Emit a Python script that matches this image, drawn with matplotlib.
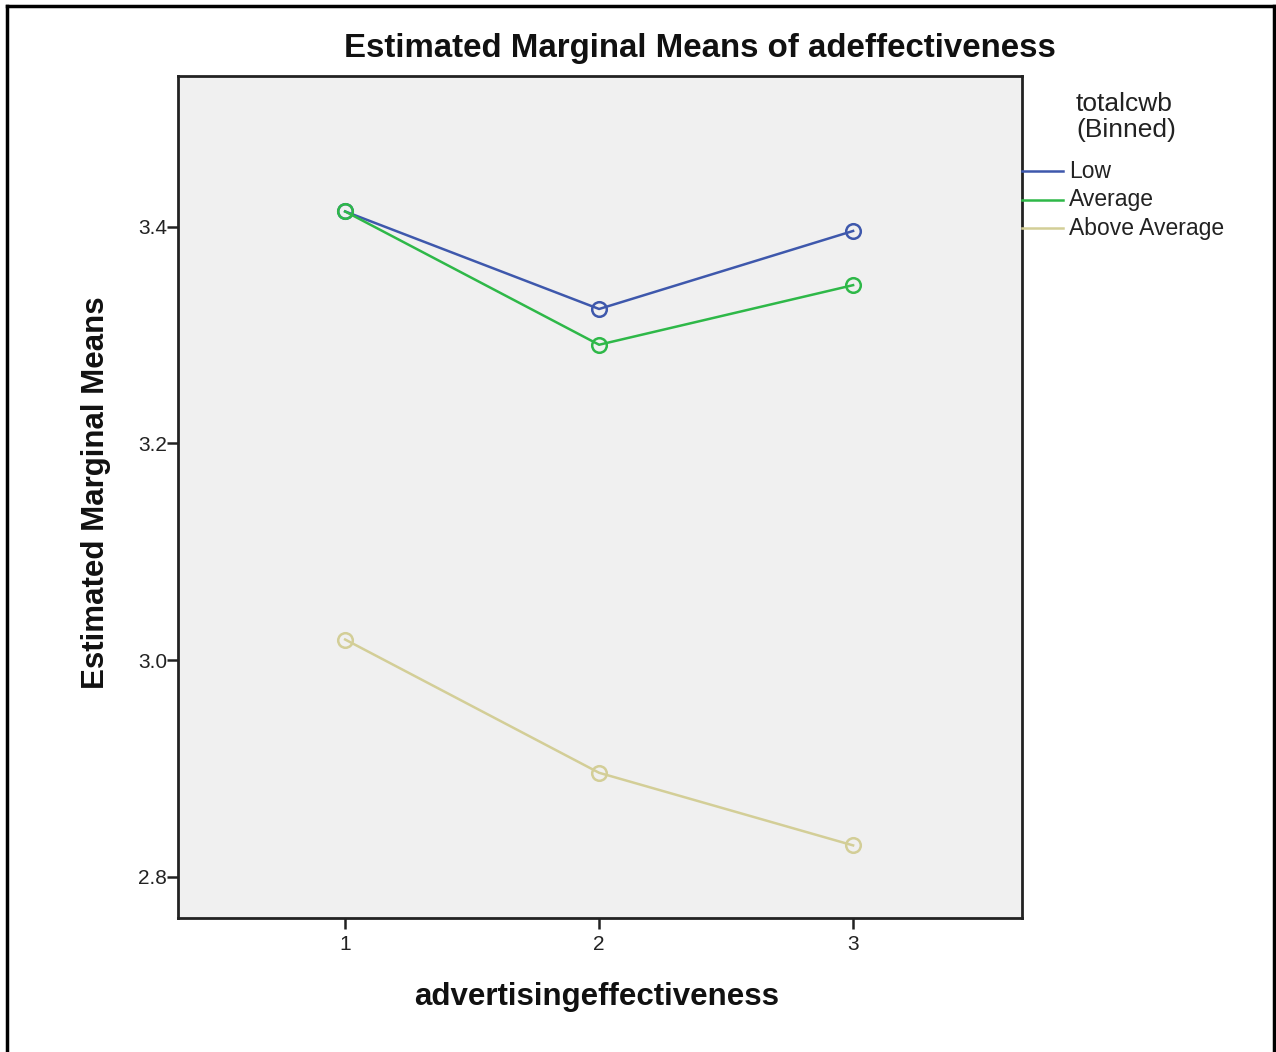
import matplotlib
matplotlib.use("Agg")
import matplotlib.pyplot as plt
from matplotlib.lines import Line2D

# Estimated marginal means by advertising effectiveness level
levels = [1, 2, 3]
groups = ["Low", "Average", "Above Average"]
means_low = [3.414, 3.324, 3.396]
means_average = [3.414, 3.291, 3.346]
means_above = [3.019, 2.896, 2.829]
series = [means_low, means_average, means_above]
colors = ["#3e58ac", "#2eb848", "#d3ce97"]
y_ticks = [2.8, 3.0, 3.2, 3.4]

plt.rcParams["font.family"] = ["Liberation Sans", "DejaVu Sans"]

W, H = 1276, 1052
fig = plt.figure(figsize=(W / 100, H / 100), dpi=100)
fig.patch.set_facecolor("white")

# outer frame (left, top, right edges)
fig.add_artist(Line2D([7 / W, 7 / W], [0, 1 - 6 / H], transform=fig.transFigure,
                      color="black", lw=2.5))
fig.add_artist(Line2D([7 / W, 1274 / W], [1 - 6 / H, 1 - 6 / H], transform=fig.transFigure,
                      color="black", lw=2.5))
fig.add_artist(Line2D([1274 / W, 1274 / W], [0, 1 - 6 / H], transform=fig.transFigure,
                      color="black", lw=2.5))

ax_l, ax_r, ax_t, ax_b = 178, 1022, 76, 918
ax = fig.add_axes([ax_l / W, 1 - ax_b / H, (ax_r - ax_l) / W, (ax_b - ax_t) / H])
ax.set_facecolor("#f0f0f0")

for vals, col in zip(series, colors):
    ax.plot(levels, vals, color=col, lw=1.8, marker="o", markersize=10.5,
            markerfacecolor="none", markeredgecolor=col, markeredgewidth=1.8)

ax.set_xlim(0.342, 3.665)
ax.set_ylim(2.762, 3.539)
ax.set_xticks(levels)
ax.set_xticklabels([str(v) for v in levels])
ax.set_yticks(y_ticks)
ax.set_yticklabels([f"{v:.1f}" for v in y_ticks])
ax.tick_params(axis="both", direction="out", length=8, width=1.8, colors="#222222",
               labelsize=15, labelcolor="#222222")
ax.tick_params(axis="y", pad=0)
ax.tick_params(axis="x", pad=4)
for sp in ax.spines.values():
    sp.set_linewidth(2)
    sp.set_color("#222222")

fig.text(700 / W, 1 - 48 / H, "Estimated Marginal Means of adeffectiveness",
         ha="center", va="center", fontsize=23.8, fontweight="bold", color="#111111")
fig.text(597 / W, 1 - 997 / H, "advertisingeffectiveness", ha="center", va="center",
         fontsize=22.5, fontweight="bold", color="#111111")
fig.text(96 / W, 1 - 493 / H, "Estimated Marginal Means", ha="center", va="center",
         rotation=90, fontsize=22.5, fontweight="bold", color="#111111")

# legend block to the right of the plot
fig.text(1076 / W, 1 - 117 / H, "totalcwb\n(Binned)", ha="left", va="center",
         fontsize=19, color="#222222", linespacing=1.08)
for i, (name, col) in enumerate(zip(groups, colors)):
    yy = 1 - (171 + 28.5 * i) / H
    fig.add_artist(Line2D([1022 / W, 1063 / W], [yy, yy], transform=fig.transFigure,
                          color=col, lw=1.8))
    fig.text(1069 / W, yy, name, ha="left", va="center", fontsize=16.5, color="#222222")

fig.savefig("out.png", dpi=100, facecolor="white")
